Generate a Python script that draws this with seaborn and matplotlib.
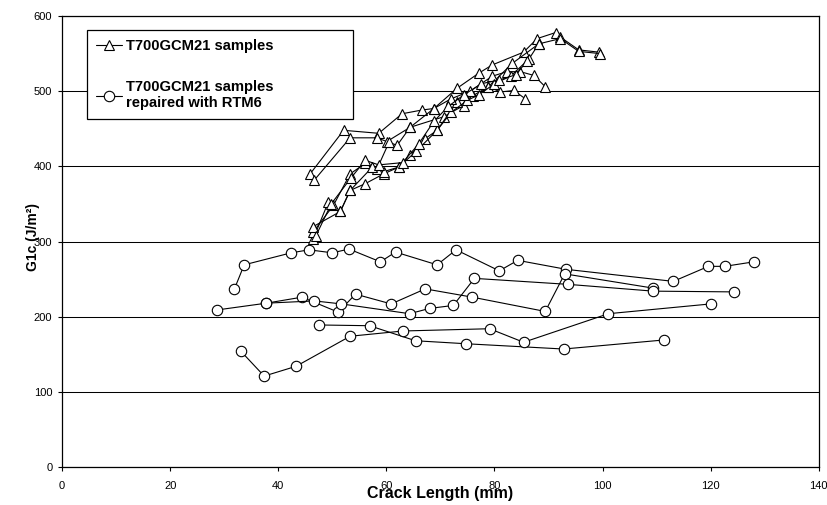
import numpy as np
import pandas as pd
import matplotlib
matplotlib.use("Agg")
import matplotlib.pyplot as plt
from matplotlib.lines import Line2D
import seaborn as sns

# 数据：T700GCM21 试样（三角形）
T1_X = [45.9, 52.1, 58.6, 62.9, 66.6, 68.8, 73.1, 77.1, 79.6, 85.4, 87.9, 91.3, 92.2, 95.6, 99.3]
T1_Y = [390, 448, 444, 470, 475, 477, 504, 524, 535, 552, 570, 578, 572, 555, 552]
T2_X = [46.7, 53.3, 58.3, 60.1, 64.4, 70.6, 74.3, 78.9, 83.3, 88.2, 92.2, 95.6, 99.6]
T2_Y = [382, 438, 438, 433, 452, 466, 481, 506, 537, 563, 570, 553, 550]
T3_X = [46.5, 49.3, 51.5, 53.3, 56.1, 59.5, 62.3, 64.4, 67.2, 69.4, 73.1, 76.0, 78.9, 81.1, 83.6, 85.7]
T3_Y = [304, 353, 340, 368, 377, 390, 399, 415, 437, 448, 486, 494, 506, 499, 501, 490]
T4_X = [46.5, 50.2, 53.3, 56.1, 58.3, 60.5, 62.0, 64.4, 68.8, 72.0, 75.5, 79.6, 82.3, 84.8, 87.3, 89.4]
T4_Y = [313, 348, 390, 404, 397, 432, 428, 452, 477, 490, 500, 520, 526, 526, 521, 506]
T5_X = [46.5, 51.5, 53.3, 57.4, 59.5, 62.3, 65.5, 69.4, 72.0, 75.0, 77.1, 80.0, 83.0, 86.4, 88.2]
T5_Y = [320, 340, 368, 399, 393, 399, 420, 448, 472, 488, 495, 510, 520, 543, 563]
T6_X = [47.0, 49.8, 53.5, 56.1, 58.6, 63.0, 66.0, 68.8, 71.5, 74.3, 77.6, 80.9, 84.0, 86.0]
T6_Y = [308, 350, 385, 408, 402, 405, 430, 460, 480, 495, 510, 515, 522, 540]

# 数据：RTM6 修复试样（圆形）
C1_X = [31.9, 33.7, 42.4, 45.7, 50.0, 53.1, 58.9, 61.7, 69.4, 72.9, 80.9, 84.3, 93.3, 113.1, 119.6, 122.6, 128.0]
C1_Y = [237, 269, 285, 289, 285, 290, 273, 286, 269, 289, 261, 275, 263, 247, 267, 267, 273]
C2_X = [28.7, 37.8, 44.4, 51.1, 54.3, 60.9, 67.2, 75.9, 89.4, 93.0, 109.4]
C2_Y = [209, 218, 226, 206, 230, 217, 237, 226, 207, 257, 238]
C3_X = [37.8, 46.7, 51.7, 64.3, 68.0, 72.4, 76.3, 93.7, 109.4, 124.4]
C3_Y = [218, 221, 217, 204, 211, 215, 251, 243, 234, 233]
C4_X = [47.6, 56.9, 65.4, 74.8, 92.8, 111.3]
C4_Y = [189, 188, 168, 164, 157, 169]
C5_X = [33.1, 37.4, 43.3, 53.3, 63.1, 79.1, 85.4, 101.1, 120.0]
C5_Y = [154, 121, 134, 174, 181, 184, 166, 204, 217]

LABEL_A = "T700GCM21 samples"
LABEL_B = "T700GCM21 samples\nrepaired with RTM6"

rows = []
for name, xs, ys in [("T1", T1_X, T1_Y), ("T2", T2_X, T2_Y), ("T3", T3_X, T3_Y),
                     ("T4", T4_X, T4_Y), ("T5", T5_X, T5_Y), ("T6", T6_X, T6_Y)]:
    for x, y in zip(xs, ys):
        rows.append((name, LABEL_A, x, y))
for name, xs, ys in [("C1", C1_X, C1_Y), ("C2", C2_X, C2_Y), ("C3", C3_X, C3_Y),
                     ("C4", C4_X, C4_Y), ("C5", C5_X, C5_Y)]:
    for x, y in zip(xs, ys):
        rows.append((name, LABEL_B, x, y))
df = pd.DataFrame(rows, columns=["sample", "group", "crack", "g1c"])

sns.set_style("ticks")
plt.rcParams["font.family"] = ["Liberation Sans", "DejaVu Sans"]
plt.rcParams["text.color"] = "black"
plt.rcParams["axes.labelcolor"] = "black"

fig = plt.figure(figsize=(8.27, 5.05), dpi=100)
ax = fig.add_axes([0.075, 0.0752, 0.915, 0.893])

sns.lineplot(data=df, x="crack", y="g1c", units="sample", style="group",
             estimator=None, sort=False, markers={LABEL_A: "^", LABEL_B: "o"},
             dashes=False, color="black", linewidth=0.8, markersize=7.5,
             markerfacecolor="white", markeredgecolor="black", markeredgewidth=0.8,
             legend=False, ax=ax)

ax.set_xlim(0, 140)
ax.set_ylim(0, 600)
ax.set_xticks(np.arange(0, 141, 20))
ax.set_yticks(np.arange(0, 601, 100))
ax.yaxis.grid(True, color="black", linewidth=0.75)
ax.xaxis.grid(False)
ax.set_axisbelow(True)
for s in ax.spines.values():
    s.set_color("black")
    s.set_linewidth(0.9)
ax.tick_params(axis="both", labelsize=8, colors="black", length=3, width=0.8)
ax.tick_params(axis="x", pad=7)
ax.tick_params(axis="y", pad=4)

ax.set_xlabel("Crack Length (mm)", fontsize=11.5, fontweight="bold")
ax.set_ylabel("G1c (J/m²)", fontsize=10, fontweight="bold")
ax.xaxis.set_label_coords(0.5, -0.043)
ax.yaxis.set_label_coords(-0.029, 0.51)

handles = [
    Line2D([], [], color="black", lw=0.8, marker="^", markersize=7.5,
           markerfacecolor="white", markeredgecolor="black", markeredgewidth=0.8),
    Line2D([], [], color="black", lw=0.8, marker="o", markersize=7.5,
           markerfacecolor="white", markeredgecolor="black", markeredgewidth=0.8),
]
leg = ax.legend(handles, [LABEL_A, LABEL_B], loc="upper left",
                bbox_to_anchor=(0.033, 0.969 - 0.19, 0.351, 0.19), mode="expand",
                frameon=True, fancybox=False, framealpha=1, edgecolor="black",
                prop={"weight": "bold", "size": 10.6}, labelspacing=1.85,
                handlelength=1.75, handletextpad=0.3, borderpad=0.6, borderaxespad=0)
leg.get_frame().set_linewidth(0.9)
for t in leg.get_texts():
    t.set_color("black")

fig.savefig("out.png", dpi=100)
